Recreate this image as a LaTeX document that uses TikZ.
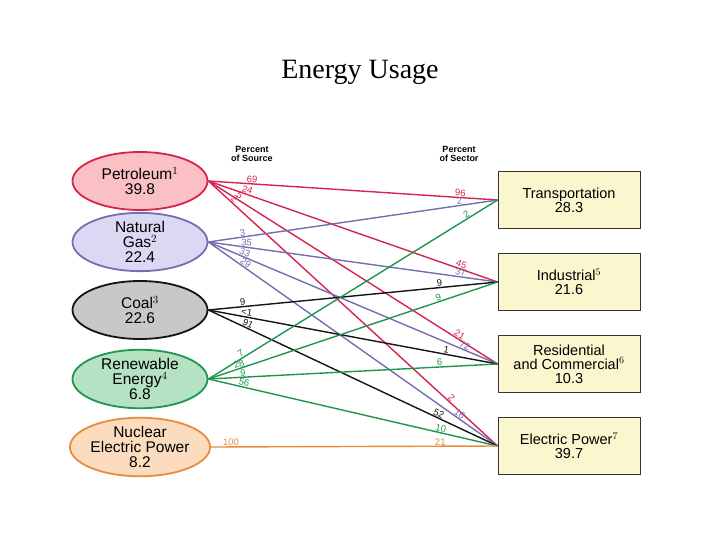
\documentclass[tikz,border=0pt]{standalone}
\usepackage{fontspec}
\setmainfont{Liberation Sans}
\newfontfamily\titlefont{Liberation Serif}
\begin{document}
\begin{tikzpicture}[x=1pt,y=-1pt,
 src/.style={ellipse,minimum width=135pt,minimum height=58pt,line width=1.8pt,align=center,font=\fontsize{15.5}{15}\selectfont,inner sep=0pt},
 sect/.style={rectangle,minimum width=142pt,minimum height=57pt,draw=black!80,line width=0.8pt,fill=boxc,align=center,font=\fontsize{14.5}{14}\selectfont,inner sep=1pt},
 flow/.style={line width=1.4pt},
 lab/.style={font=\fontsize{9.5}{9}\selectfont,sloped,above,inner sep=0.5pt},
 hdr/.style={font=\bfseries\fontsize{9}{9}\selectfont,align=center}]
\usetikzlibrary{shapes.geometric}
\definecolor{boxc}{RGB}{250,246,205}
\definecolor{petf}{RGB}{250,192,195}\definecolor{petd}{RGB}{215,35,80}
\definecolor{gasf}{RGB}{218,216,242}\definecolor{gasd}{RGB}{115,110,175}
\definecolor{coalf}{RGB}{200,200,200}\definecolor{coald}{RGB}{20,20,20}
\definecolor{renf}{RGB}{182,226,196}\definecolor{rend}{RGB}{30,150,80}
\definecolor{nucf}{RGB}{251,220,190}\definecolor{nucd}{RGB}{232,140,60}
\useasboundingbox (0,0) rectangle (720,540);
\node[font=\titlefont\fontsize{28}{30}\selectfont] (title) at (360,72) {Energy Usage};
\node[hdr] (h1) at (252,154) {Percent\\of Source};
\node[hdr] (h2) at (459,154) {Percent\\of Sector};
\node[src,fill=petf,draw=petd] (pet) at (140,181) {Petroleum$^{\scriptstyle 1}$\\39.8};
\node[src,fill=gasf,draw=gasd] (gas) at (140,242) {Natural\\Gas$^{\scriptstyle 2}$\\22.4};
\node[src,fill=coalf,draw=coald] (coal) at (140,310) {Coal$^{\scriptstyle 3}$\\22.6};
\node[src,fill=renf,draw=rend] (ren) at (140,379) {Renewable\\Energy$^{\scriptstyle 4}$\\6.8};
\node[src,fill=nucf,draw=nucd] (nuc) at (140,447) {Nuclear\\Electric Power\\8.2};
\node[sect] (tr) at (569,200) {Transportation\\28.3};
\node[sect] (in) at (569,282) {Industrial$^{\scriptstyle 5}$\\21.6};
\node[sect] (re) at (569,364) {Residential\\and Commercial$^{\scriptstyle 6}$\\10.3};
\node[sect] (el) at (569,446) {Electric Power$^{\scriptstyle 7}$\\39.7};
% petroleum
\draw[flow,petd] (pet.east) -- node[lab,pos=0.15]{69} node[lab,pos=0.87]{96} (tr.west);
\draw[flow,petd] (pet.east) -- node[lab,pos=0.13]{24} node[lab,pos=0.87]{45} (in.west);
\draw[flow,petd] (pet.east) -- node[lab,pos=0.1]{5} node[lab,pos=0.86]{21} (re.west);
\draw[flow,petd] (pet.east) -- node[lab,pos=0.08]{2} node[lab,pos=0.83]{2} (el.west);
% gas
\draw[flow,gasd] (gas.east) -- node[lab,pos=0.12]{3} node[lab,pos=0.87]{2} (tr.west);
\draw[flow,gasd] (gas.east) -- node[lab,pos=0.13]{35} node[lab,pos=0.87]{37} (in.west);
\draw[flow,gasd] (gas.east) -- node[lab,pos=0.12]{33} node[lab,pos=0.88]{72} (re.west);
\draw[flow,gasd] (gas.east) -- node[lab,pos=0.12]{29} node[lab,pos=0.86]{16} (el.west);
% coal
\draw[flow,coald] (coal.east) -- node[lab,pos=0.12]{9} node[lab,pos=0.8]{9} (in.west);
\draw[flow,coald] (coal.east) -- node[lab,pos=0.13]{<1} node[lab,pos=0.82]{1} (re.west);
\draw[flow,coald] (coal.east) -- node[lab,pos=0.13]{91} node[lab,pos=0.79]{52} (el.west);
% renewable
\draw[flow,rend] (ren.east) -- node[lab,pos=0.12]{7} node[lab,pos=0.9]{2} (tr.west);
\draw[flow,rend] (ren.east) -- node[lab,pos=0.11]{28} node[lab,pos=0.8]{9} (in.west);
\draw[flow,rend] (ren.east) -- node[lab,pos=0.12]{9} node[lab,pos=0.8]{6} (re.west);
\draw[flow,rend] (ren.east) -- node[lab,pos=0.12]{56} node[lab,pos=0.8]{10} (el.west);
% nuclear
\draw[flow,nucd] (nuc.east) -- node[lab,pos=0.07]{100} node[lab,pos=0.8]{21} (el.west);
\end{tikzpicture}
\end{document}
